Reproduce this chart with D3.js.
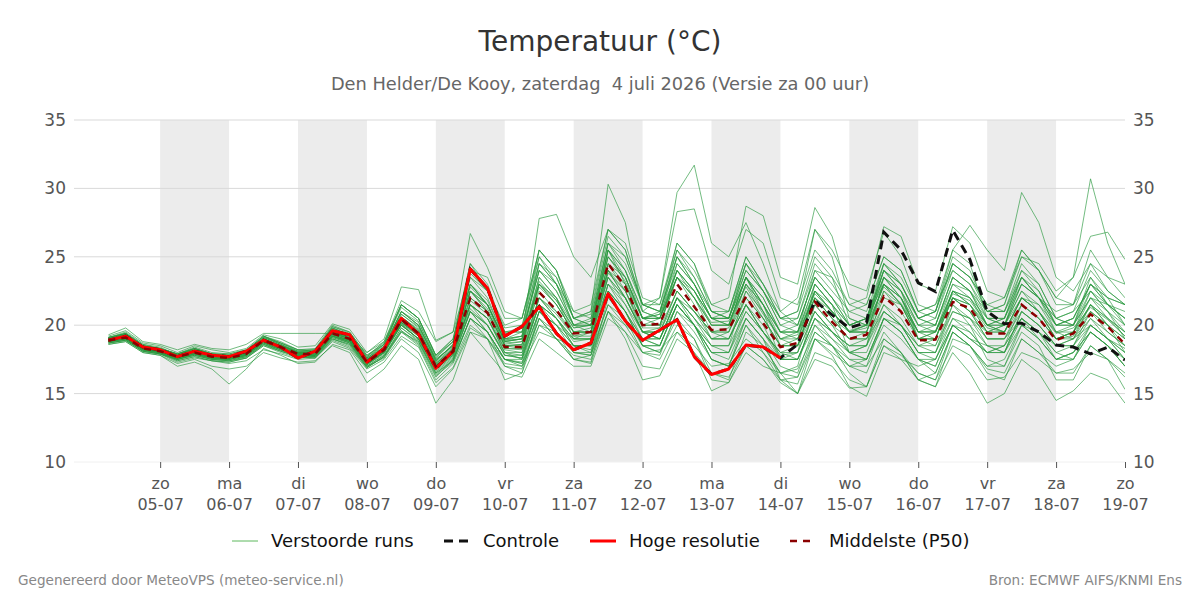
<!DOCTYPE html>
<html>
<head>
<meta charset="utf-8">
<script src="https://cdn.jsdelivr.net/npm/d3@7"></script>
<style>
  body { margin: 0; background: #fff; }
  text { font-family: "DejaVu Sans", sans-serif; }
</style>
</head>
<body>
<div id="chart"></div>
<script>
// 6-hourly steps starting 04-07 06 UTC
const startTime = Date.UTC(2026, 6, 4, 6);
const stepHours = 6;

const hogeResolutie = [18.9,19.2,18.4, 18.2,17.7,18.1,17.8, 17.7,18.1,18.9,18.4, 17.6,18.1,19.6,19.3,
  17.3,18.3,20.5,19.35, 16.85,18.1,24.1,22.7, 19.2,19.9,21.35,19.4, 18.2,18.7,22.3,20.3,
  18.9,19.65,20.4,17.7, 16.4,16.8,18.55,18.4, 17.6];

const controle = [18.9,19.2,18.4, 18.2,17.7,18.1,17.8, 17.7,18.1,18.9,18.4, 17.6,18.1,19.6,19.3,
  17.3,18.3,20.5,19.35, 16.85,18.1,24.1,22.7, 19.2,19.9,21.35,19.4, 18.2,18.7,22.3,20.3,
  18.9,19.65,20.4,17.7, 16.4,16.8,18.55,18.4, 17.6,18.6,21.8,20.75, 19.8,20.2,26.8,25.5,
  23.1,22.45,26.95,24.8, 21.0,20.1,20.15,19.5, 18.55,18.4,17.9,18.4, 17.45];

const middelste = [18.9,19.1,18.3, 18.1,17.7,18.0,17.7, 17.6,17.9,18.9,18.4, 17.9,17.9,19.4,19.0,
  17.3,18.2,20.4,19.4, 17.0,18.1,22.0,20.9, 18.4,18.4,22.4,21.1, 19.4,19.5,24.5,22.8,
  20.0,20.1,23.0,21.35, 19.65,19.7,22.1,20.15, 18.4,18.7,21.7,20.25, 19.0,19.3,22.1,21.0,
  18.9,18.95,21.7,21.25, 19.4,19.4,21.5,20.5, 18.9,19.4,20.8,19.9, 18.6];

const verstoordeRuns = [
  [19.0,19.4,18.5, 18.2,17.6,18.2,17.9, 17.8,18.0,19.2,18.6, 18.0,18.1,19.8,19.3, 17.6,18.4,21.0,20.0, 17.4,18.6,23.5,22.0, 19.0,19.2,24.5,23.0, 20.5,21.0,30.3,27.5, 21.0,20.5,25.0,23.0, 20.5,20.0,23.5,21.5, 19.0,18.5,22.0,20.5, 19.5,19.8,23.0,22.0, 19.5,19.0,22.5,21.5, 19.8,19.5,22.0,21.0, 19.0,19.2,21.5,20.5, 19.2],
  [18.7,18.9,18.1, 17.9,17.3,17.6,17.4, 17.2,17.4,18.2,17.9, 17.5,17.6,18.8,18.3, 16.8,17.5,19.2,18.4, 15.8,16.9,19.8,19.0, 17.2,17.0,19.5,19.0, 17.5,17.2,21.0,20.0, 18.0,18.2,19.5,18.5, 17.0,17.2,19.0,18.0, 16.5,16.8,19.5,18.5, 17.5,17.0,19.0,18.0, 16.5,16.0,18.5,17.8, 16.0,16.2,18.0,17.5, 16.5,16.8,18.0,17.5, 16.2],
  [19.0,19.3,18.4, 18.3,17.9,18.3,17.8, 17.7,18.1,19.0,18.5, 18.1,18.0,19.6,19.1, 17.4,18.3,20.8,19.8, 17.2,18.3,23.0,21.5, 18.8,19.0,23.5,22.0, 20.0,20.3,25.5,24.0, 21.0,22.0,29.7,31.7, 26.0,25.0,27.5,24.5, 21.0,20.0,23.5,22.0, 20.0,20.5,24.5,23.0, 20.5,20.0,23.5,22.5, 20.0,19.5,22.0,21.0, 19.5,19.0,21.0,20.0, 19.0],
  [18.8,19.0,18.2, 18.0,17.5,17.9,17.6, 17.5,17.8,18.7,18.2, 17.8,17.8,19.2,18.8, 17.1,18.0,20.2,19.3, 16.8,18.0,21.5,20.5, 18.3,18.2,22.0,20.8, 19.2,19.5,23.5,22.0, 19.5,19.8,22.5,21.0, 19.5,19.8,23.0,21.0, 19.0,19.5,23.0,21.5, 20.0,20.5,24.0,22.5, 20.0,20.5,24.5,23.5, 21.0,21.5,25.5,24.0, 22.0,23.5,30.7,26.0, 23.0],
  [19.1,19.5,18.6, 18.4,17.8,18.3,17.9, 17.8,18.1,19.1,18.7, 18.2,18.2,19.9,19.5, 17.8,18.6,21.3,20.3, 17.5,18.5,22.8,21.5, 18.9,19.0,23.2,21.8, 19.8,20.0,25.5,23.5, 20.5,20.8,24.0,22.5, 20.5,20.5,23.5,22.0, 19.5,19.5,22.5,21.0, 19.5,20.0,23.5,22.5, 20.5,21.0,24.5,23.5, 21.5,22.0,25.0,24.5, 22.5,23.5,26.5,26.8, 24.8],
  [18.6,18.8,18.0, 17.8,17.2,17.5,17.0, 16.8,17.0,18.0,17.6, 17.3,17.4,18.5,18.0, 15.8,16.8,18.5,17.5, 14.3,16.0,19.5,19.0, 17.5,17.2,20.0,19.5, 18.0,17.8,21.5,20.5, 18.5,18.0,21.0,20.0, 17.5,17.0,20.5,19.0, 16.0,16.2,19.5,18.5, 16.5,15.5,19.0,18.0, 16.0,15.5,19.0,18.5, 17.0,17.5,20.0,19.0, 17.5,18.0,20.0,19.0, 17.5],
  [19.2,19.6,18.7, 18.5,18.0,18.5,18.2, 18.0,18.3,19.3,19.0, 18.4,18.5,20.1,19.7, 18.0,19.0,22.8,22.6, 18.9,19.5,24.0,23.5, 20.5,20.5,25.5,24.0, 20.5,20.8,26.5,25.0, 21.5,21.0,24.5,23.0, 21.0,20.5,24.5,22.5, 20.5,20.0,23.5,22.0, 20.5,20.0,24.0,23.0, 20.5,20.0,23.0,22.0, 20.0,20.5,23.5,22.5, 20.0,20.0,22.0,21.5, 20.5],
  [18.9,19.2,18.3, 18.1,17.6,18.0,17.6, 17.6,17.9,18.8,18.3, 17.9,17.9,19.3,18.9, 17.3,18.1,20.3,19.4, 17.0,18.2,22.5,21.5, 18.9,19.2,27.8,28.1, 25.0,23.5,27.0,25.5, 21.5,21.0,25.0,23.5, 21.0,20.5,24.0,22.5, 20.0,20.5,24.5,23.0, 21.0,21.5,25.0,24.0, 21.0,21.5,25.5,24.5, 20.5,20.0,23.0,22.0, 19.5,19.5,22.0,20.5, 19.5],
  [18.8,19.1,18.3, 18.0,17.7,18.1,17.8, 17.7,18.0,19.0,18.5, 18.0,18.0,19.5,19.1, 17.5,18.3,20.6,19.7, 17.3,18.4,23.5,22.5, 19.5,19.5,24.0,23.0, 20.0,20.5,26.0,25.0, 21.5,22.0,28.3,28.5, 24.0,23.0,27.0,26.0, 22.0,21.5,25.5,24.0, 21.5,21.0,24.5,23.0, 20.5,21.0,25.0,24.0, 21.0,21.0,24.5,23.0, 20.5,20.0,23.0,22.0, 21.5],
  [19.0,19.2,18.4, 18.2,17.7,18.1,17.7, 17.6,17.9,18.9,18.4, 17.9,17.9,19.5,19.0, 17.3,18.2,20.5,19.5, 17.1,18.1,22.5,21.0, 18.5,18.6,23.0,21.5, 19.5,19.8,25.0,23.5, 20.5,20.8,25.5,24.0, 21.5,22.0,28.7,28.0, 23.5,23.0,28.6,26.5, 22.0,21.5,25.0,24.0, 21.0,20.5,24.0,23.0, 20.5,20.0,23.5,22.0, 20.0,20.5,23.0,21.5, 20.0],
  [18.7,18.9,18.1, 17.9,17.5,17.8,17.5, 17.4,17.6,18.5,18.0, 17.6,17.7,19.0,18.6, 17.0,17.6,19.5,18.8, 16.5,17.4,20.5,19.5, 17.5,17.2,20.5,19.0, 17.8,17.5,21.0,19.5, 17.0,16.8,19.5,18.0, 15.2,15.8,18.5,17.5, 15.8,15.0,18.0,17.5, 16.0,15.5,18.5,17.8, 16.5,16.0,19.5,18.5, 16.8,16.5,19.0,18.0, 16.5,16.5,18.5,17.5, 16.5],
  [19.0,19.3,18.4, 18.1,17.7,18.2,17.8, 17.7,18.0,19.0,18.5, 18.0,18.0,19.6,19.2, 17.5,18.3,20.6,19.6, 17.2,18.2,22.5,21.0, 18.6,18.8,23.0,21.5, 19.5,19.5,24.5,22.5, 20.0,20.0,23.5,22.0, 20.0,20.0,23.0,21.5, 19.5,19.5,24.0,23.5, 21.5,22.0,27.2,26.5, 23.0,22.5,27.2,26.0, 22.5,22.0,25.5,24.0, 21.5,21.5,24.5,22.5, 21.5],
  [18.9,19.1,18.3, 18.1,17.8,18.1,17.7, 17.6,17.8,18.9,18.4, 17.9,17.9,19.2,18.8, 17.2,18.0,20.0,19.0, 16.8,17.8,21.5,20.5, 18.0,18.0,21.5,20.5, 19.0,19.0,23.0,22.0, 19.5,19.5,22.5,21.0, 19.0,19.0,22.0,20.5, 18.5,18.5,22.5,21.5, 19.5,20.0,24.0,23.0, 20.5,21.0,25.5,27.3, 25.5,24.0,29.7,27.5, 23.5,22.5,24.5,23.5, 22.0],
  [18.8,19.0,18.2, 18.0,17.6,17.9,17.6, 17.5,17.8,18.8,18.3, 17.8,17.8,19.3,18.9, 17.2,18.1,20.0,19.0, 16.6,17.6,21.0,20.0, 17.8,17.6,21.0,20.0, 18.5,18.5,22.5,21.0, 19.0,18.5,21.5,20.0, 18.0,17.5,20.5,19.0, 17.0,16.5,20.0,18.5, 17.0,16.5,19.5,18.0, 16.0,15.5,18.0,16.5, 14.3,15.0,17.5,16.5, 14.5,15.2,16.5,16.0, 14.3],
  [19.1,19.4,18.5, 18.3,17.9,18.2,17.8, 17.8,18.1,19.1,18.6, 18.1,18.2,19.8,19.2, 17.6,18.5,21.5,20.5, 17.8,18.8,24.5,23.0, 19.5,19.8,25.5,24.0, 20.5,21.0,27.0,26.0, 22.0,21.5,26.0,24.5, 21.0,20.5,24.0,22.5, 20.5,21.0,27.0,25.5, 23.0,22.5,26.8,25.0, 21.5,21.0,24.5,23.5, 21.5,21.0,24.0,23.0, 20.5,20.0,23.5,21.5, 21.0],
  [18.9,19.0,18.3, 18.0,17.6,17.9,17.6, 17.5,17.8,18.7,18.3, 17.8,17.8,19.2,18.9, 17.1,18.0,20.1,19.2, 16.8,17.8,21.5,20.5, 18.0,17.8,21.5,20.5, 18.8,19.0,23.5,22.0, 19.5,19.5,22.0,20.5, 19.0,19.0,21.5,19.5, 17.8,18.0,21.0,19.5, 18.5,18.5,21.0,20.0, 18.0,18.0,20.5,20.0, 18.5,18.5,20.5,19.5, 18.0,18.5,20.0,19.0, 18.0],
  [19.0,19.2,18.4, 18.2,17.8,18.1,17.8, 17.7,18.0,19.0,18.5, 18.0,18.0,19.5,19.1, 17.4,18.3,20.6,19.6, 17.2,18.3,22.5,21.2, 18.7,18.8,23.0,21.8, 19.8,20.0,25.0,23.2, 20.5,20.5,23.5,22.0, 20.2,20.3,22.8,20.8, 19.0,19.3,22.3,21.0, 19.6,20.0,22.8,21.6, 19.5,19.6,22.3,21.8, 20.0,20.0,22.0,21.0, 19.4,19.8,21.3,20.4, 19.2],
  [18.8,19.0,18.2, 18.0,17.4,17.7,17.4, 17.3,17.6,18.6,18.1, 17.7,17.7,19.0,18.5, 16.9,17.7,19.8,18.8, 16.3,17.3,20.5,19.5, 17.0,16.5,20.0,19.0, 17.5,17.3,22.0,20.5, 18.0,17.8,21.0,19.5, 17.5,17.0,20.0,18.5, 16.5,17.0,21.5,20.0, 18.0,18.5,22.5,21.0, 19.0,19.0,22.0,21.0, 19.0,19.0,21.0,20.0, 18.5,18.5,21.0,19.5, 18.5],
  [19.1,19.3,18.5, 18.2,17.9,18.3,17.9, 17.9,18.2,19.2,18.7, 18.2,18.1,19.7,19.2, 17.6,18.6,21.0,20.2, 17.6,18.8,23.8,22.5, 19.8,20.0,24.5,23.5, 20.5,20.0,24.0,22.5, 19.5,19.0,21.5,20.0, 18.5,18.0,20.5,19.0, 17.5,17.5,20.5,19.5, 18.0,17.5,20.0,19.0, 17.5,17.0,20.0,19.5, 18.0,18.5,21.5,20.5, 19.0,19.5,22.5,21.0, 19.5],
  [18.9,19.1,18.3, 18.1,17.7,18.0,17.7, 17.6,17.9,18.8,18.4, 17.9,17.9,19.4,19.0, 17.3,18.1,20.2,19.3, 17.0,18.0,21.8,20.8, 18.3,18.3,22.0,21.0, 19.2,19.2,23.8,22.5, 19.8,19.8,24.5,23.0, 20.5,20.5,24.5,22.5, 20.0,19.5,22.0,20.5, 19.0,19.0,21.0,20.0, 18.5,18.0,21.0,20.5, 19.5,20.0,23.0,22.0, 20.5,21.0,24.0,22.5, 21.5],
  [19.3,19.8,18.8, 18.6,18.2,18.6,18.3, 18.2,18.6,19.4,19.4, 19.4,19.4,19.4,19.2, 18.0,18.8,21.5,20.5, 17.8,19.0,24.0,22.5, 19.0,19.5,25.0,23.0, 21.0,20.5,26.0,24.0, 20.5,20.0,24.0,22.0, 19.5,19.0,21.5,19.5, 18.0,17.5,20.0,19.0, 17.5,17.5,20.5,20.0, 18.5,19.0,22.0,21.5, 20.0,20.5,23.5,22.0, 21.0,21.5,25.5,23.5, 23.0],
  [18.6,18.8,18.0, 17.8,17.0,17.3,16.8, 15.7,16.8,18.3,17.8, 17.2,17.3,18.6,18.2, 16.5,17.3,19.0,18.0, 15.5,16.8,19.5,18.0, 16.5,16.2,19.0,18.0, 17.0,17.0,20.5,19.5, 18.0,17.5,20.0,19.0, 16.5,16.0,19.5,18.5, 16.5,16.2,19.0,17.8, 15.5,14.8,18.0,17.5, 16.0,16.5,19.5,18.5, 17.0,17.0,19.5,18.5, 16.0,16.0,18.5,17.5, 15.3],
  [18.8,19.0,18.2, 17.9,17.6,17.9,17.6, 17.5,17.8,18.7,18.2, 17.7,17.8,19.1,18.7, 17.0,17.8,19.6,18.6, 16.2,17.5,20.5,19.0, 16.0,16.5,21.0,19.5, 17.5,17.8,21.0,19.0, 16.0,16.3,19.0,18.0, 16.5,16.2,18.5,17.5, 16.0,15.7,19.0,18.0, 17.0,17.5,20.5,19.5, 17.5,17.0,20.0,19.0, 18.0,18.5,20.5,19.0, 17.5,18.0,19.5,18.5, 17.0],
  [19.0,19.3,18.5, 18.2,17.8,18.3,17.9, 17.7,18.0,19.1,18.6, 18.0,18.1,19.8,19.3, 17.7,18.8,21.8,21.0, 18.8,19.5,26.7,24.2, 21.0,20.5,25.0,23.5, 20.5,20.0,25.5,24.0, 21.0,20.5,24.0,22.5, 20.0,20.0,23.5,21.5, 19.5,19.0,22.0,21.0, 19.5,19.5,23.0,22.0, 20.0,19.5,22.0,21.0, 19.5,20.0,22.5,21.5, 20.0,20.5,23.0,21.5, 20.5],
  [18.7,18.9,18.1, 17.9,17.5,17.8,17.5, 17.4,17.7,18.6,18.1, 17.7,17.6,18.9,18.4, 16.9,17.7,19.5,18.5, 16.0,17.2,20.0,19.0, 17.0,16.8,20.5,19.5, 18.0,17.8,22.5,21.0, 18.5,18.5,21.5,20.0, 18.5,18.5,22.5,21.0, 17.5,18.0,23.0,21.5, 18.0,18.5,23.5,22.5, 19.0,18.5,21.5,20.0, 17.5,17.0,20.0,19.5, 18.0,17.5,20.0,19.0, 17.5],
  [19.0,19.2,18.3, 18.1,17.7,18.0,17.6, 17.6,17.9,18.8,18.4, 17.9,18.0,19.4,19.0, 17.3,18.2,20.4,19.4, 17.0,18.2,22.0,21.0, 18.5,18.3,22.8,21.5, 19.5,19.5,24.5,23.5, 20.5,21.0,26.0,24.5, 21.5,21.0,25.0,23.0, 21.0,22.0,27.0,25.0, 20.5,20.0,23.5,22.0, 19.0,19.0,22.5,21.5, 19.5,19.5,22.0,21.5, 19.5,20.0,22.5,21.0, 19.0],
  [18.8,19.1,18.2, 18.0,17.6,18.0,17.6, 17.6,17.8,18.8,18.3, 17.9,17.8,19.3,18.9, 17.2,18.1,20.2,19.3, 16.9,18.0,21.5,20.0, 18.0,17.5,21.0,20.0, 19.0,19.0,23.5,21.5, 19.5,19.0,22.0,21.0, 19.5,19.5,23.0,21.5, 18.5,18.5,21.0,19.5, 18.5,19.0,22.0,21.5, 19.0,19.5,22.5,22.0, 20.0,20.0,22.5,21.0, 19.0,19.5,21.5,20.5, 19.5],
  [18.9,19.0,18.3, 18.0,17.5,17.9,17.5, 17.5,17.7,18.7,18.2, 17.8,17.7,19.2,18.7, 17.1,17.9,20.0,19.0, 16.7,17.7,21.0,19.5, 17.5,17.5,22.0,20.5, 18.5,18.5,23.0,21.0, 18.5,18.0,20.5,19.0, 16.0,15.8,18.0,17.0, 16.5,15.0,17.5,17.0, 15.4,15.5,18.5,17.5, 17.0,17.5,20.0,19.0, 18.0,18.0,21.0,20.0, 18.5,19.0,21.5,20.0, 18.0],
  [19.0,19.4,18.5, 18.3,17.8,18.1,17.8, 17.7,18.0,19.0,18.5, 18.0,18.1,19.7,19.2, 17.5,18.4,20.8,19.9, 17.4,18.5,23.0,21.5, 18.8,19.0,23.0,22.0, 19.5,19.5,24.0,23.0, 20.5,20.5,23.5,22.5, 20.5,21.0,24.5,23.0, 20.5,21.0,25.0,23.5, 20.0,20.0,24.5,23.5, 21.0,21.5,24.0,23.0, 21.0,21.5,25.0,24.0, 22.0,21.5,23.5,22.0, 21.5],
  [18.8,19.0,18.2, 18.0,17.7,18.0,17.7, 17.6,17.9,18.8,18.3, 17.8,17.8,19.2,18.8, 17.2,18.0,20.1,19.0, 16.8,17.9,21.0,19.5, 17.5,17.0,20.5,19.0, 18.5,18.0,21.5,20.0, 19.0,19.0,22.0,20.0, 18.0,18.0,21.0,19.5, 18.0,18.5,21.5,20.0, 19.0,19.0,21.5,20.0, 18.0,17.5,20.0,19.0, 18.5,18.0,21.0,20.0, 18.5,18.5,20.5,19.0, 18.0],
  [18.9,19.1,18.3, 18.1,17.6,18.0,17.7, 17.6,17.9,18.9,18.3, 17.9,17.8,19.3,18.9, 17.2,18.1,20.2,19.2, 16.9,18.0,21.2,20.0, 17.8,17.6,21.5,20.5, 18.5,18.2,22.5,21.0, 19.0,18.5,21.5,20.0, 17.5,17.0,20.0,18.0, 16.0,15.0,19.0,18.5, 17.0,17.0,20.5,19.5, 17.5,16.5,19.5,18.5, 16.5,16.0,19.0,18.0, 17.0,17.5,19.5,18.5, 17.0],
  [19.1,19.4,18.5, 18.3,17.9,18.3,17.9, 17.8,18.1,19.2,18.7, 18.1,18.2,19.9,19.4, 17.7,18.6,21.5,20.5, 17.8,19.0,24.5,22.5, 20.0,20.5,25.5,24.0, 21.0,21.5,27.0,25.5, 21.5,21.0,25.0,23.0, 20.5,20.0,23.5,22.0, 19.5,19.5,23.0,21.5, 20.0,20.5,23.5,22.0, 19.5,19.5,23.0,22.5, 20.5,20.5,24.0,22.5, 20.0,20.5,23.0,22.0, 20.0],
  [18.9,19.2,18.4, 18.2,17.8,18.2,17.8, 17.7,18.0,19.0,18.5, 18.0,18.0,19.5,19.0, 17.4,18.4,21.0,20.0, 17.5,18.5,23.0,21.5, 18.5,18.5,23.5,22.0, 19.0,19.5,25.5,23.0, 20.0,20.5,23.5,21.5, 19.0,19.5,22.5,20.5, 18.5,19.0,22.5,21.0, 19.5,19.5,22.5,21.5, 19.0,19.5,22.0,21.5, 19.5,19.5,22.0,21.0, 19.0,19.5,21.5,20.0, 19.0],
  [18.8,19.0,18.2, 18.0,17.6,17.9,17.6, 17.5,17.8,18.8,18.3, 17.8,17.8,19.2,18.8, 17.2,18.0,20.0,19.0, 16.9,17.9,21.5,20.5, 18.2,18.0,22.0,20.5, 19.0,19.0,24.0,22.0, 19.5,19.0,22.0,20.5, 19.0,19.0,21.5,19.5, 18.0,18.0,21.0,19.5, 18.5,18.5,21.5,20.5, 18.5,18.5,21.0,20.5, 19.0,19.0,20.5,19.5, 18.5,19.0,20.0,19.0, 18.3],
  [19.0,19.3,18.4, 18.2,17.8,18.1,17.8, 17.7,18.0,19.0,18.5, 18.0,18.0,19.6,19.2, 17.5,18.4,21.0,20.0, 17.4,18.6,23.0,21.8, 19.0,19.2,24.0,22.5, 20.0,20.0,25.0,23.5, 20.5,20.5,24.0,22.5, 20.5,20.5,23.5,21.5, 19.5,20.0,23.5,22.0, 20.0,20.5,23.0,21.5, 19.5,19.5,22.5,22.0, 20.5,20.5,23.0,22.0, 20.0,20.0,22.0,21.0, 20.0],
  [18.7,18.9,18.1, 17.9,17.4,17.7,17.4, 17.3,17.6,18.5,18.1, 17.7,17.6,19.0,18.6, 16.9,17.7,19.6,18.7, 16.4,17.4,20.5,19.5, 17.5,17.3,21.0,20.0, 18.0,18.0,22.5,21.0, 18.5,18.5,21.5,20.0, 18.0,18.0,21.5,20.0, 17.5,17.5,20.5,19.5, 18.0,17.5,20.5,19.5, 17.5,17.5,20.5,19.5, 18.0,18.0,20.0,19.0, 17.5,17.5,19.5,18.5, 17.5],
  [19.0,19.2,18.4, 18.1,17.7,18.1,17.7, 17.6,17.9,18.9,18.4, 17.9,18.0,19.4,19.0, 17.3,18.2,20.5,19.5, 17.0,18.2,22.5,21.5, 18.8,19.0,24.5,23.0, 20.0,19.5,24.0,22.0, 19.5,19.5,22.5,21.0, 19.5,19.5,22.0,20.5, 18.5,18.5,22.0,20.5, 19.0,19.5,23.0,22.0, 19.5,20.0,23.5,22.5, 20.0,19.5,21.5,20.5, 19.0,19.5,21.0,20.0, 18.5],
  [18.9,19.1,18.3, 18.1,17.7,18.0,17.7, 17.6,17.9,18.8,18.4, 17.9,17.9,19.4,19.0, 17.3,18.2,20.4,19.4, 17.1,18.1,22.0,21.0, 18.5,18.6,22.5,21.0, 19.5,19.5,24.5,23.0, 20.0,20.0,23.5,22.0, 20.0,20.0,23.5,21.0, 19.0,19.0,22.5,21.0, 19.5,19.5,23.0,21.5, 19.0,19.0,22.0,21.0, 19.0,19.0,21.5,20.5, 19.0,19.0,20.5,19.5, 18.5],
  [19.1,19.4,18.6, 18.3,17.9,18.4,18.0, 17.9,18.2,19.2,18.8, 18.2,18.3,20.0,19.5, 17.8,18.7,21.5,20.5, 17.7,18.8,24.0,22.5, 19.5,19.5,24.0,22.5, 20.0,20.0,26.0,24.5, 21.5,21.5,25.5,23.5, 21.0,21.0,25.0,23.0, 20.5,20.5,24.0,22.5, 21.0,20.5,24.0,22.5, 20.0,20.0,23.5,22.5, 21.0,21.0,23.5,22.0, 20.5,21.0,22.5,21.5, 20.5],
  [18.8,19.0,18.2, 18.0,17.5,17.8,17.5, 17.4,17.7,18.6,18.2, 17.7,17.7,19.1,18.7, 17.0,17.8,19.8,18.9, 16.5,17.5,21.0,20.0, 17.8,17.8,21.5,20.0, 18.5,18.5,23.0,21.5, 19.0,19.0,22.0,20.5, 18.5,18.5,21.0,19.5, 17.5,17.5,20.5,19.0, 18.0,18.0,21.0,20.0, 18.0,18.0,21.5,20.5, 18.5,18.0,20.5,19.5, 17.5,18.0,19.5,18.5, 17.0]
];

const yTicks = [10, 15, 20, 25, 30, 35];
const dagNamen = ['zo', 'ma', 'di', 'wo', 'do', 'vr', 'za'];
const legendaItems = ['Verstoorde runs', 'Controle', 'Hoge resolutie', 'Middelste (P50)'];

const width = 1200, height = 600;
const plot = { left: 74, right: 1125, top: 120, bottom: 462 };

const timeAt = i => new Date(startTime + i * stepHours * 3600 * 1000);

const svg = d3.select('#chart').append('svg')
    .attr('width', width)
    .attr('height', height);

const x = d3.scaleUtc()
    .domain([new Date(Date.UTC(2026, 6, 3, 18)), new Date(Date.UTC(2026, 6, 19, 0))])
    .range([plot.left, plot.right]);

const y = d3.scaleLinear()
    .domain([10, 35])
    .range([plot.bottom, plot.top]);

svg.append('defs').append('clipPath').attr('id', 'plotclip')
    .append('rect')
    .attr('x', plot.left).attr('y', plot.top)
    .attr('width', plot.right - plot.left).attr('height', plot.bottom - plot.top);

// alternating day bands
const days = d3.utcDay.range(new Date(Date.UTC(2026, 6, 5)), new Date(Date.UTC(2026, 6, 20)));
svg.append('g').attr('clip-path', 'url(#plotclip)')
    .selectAll('rect')
    .data(days.filter((d, i) => i % 2 === 0))
    .enter().append('rect')
    .attr('x', d => x(d))
    .attr('y', plot.top)
    .attr('width', d => x(d3.utcDay.offset(d, 1)) - x(d))
    .attr('height', plot.bottom - plot.top)
    .attr('fill', '#ececec');

// grid
svg.append('g').selectAll('line')
    .data(yTicks)
    .enter().append('line')
    .attr('x1', plot.left).attr('x2', plot.right)
    .attr('y1', d => y(d)).attr('y2', d => y(d))
    .attr('stroke', d => d === 10 ? '#f0f0f0' : '#d9d9d9')
    .attr('stroke-width', 1);

// y labels both sides
const yLab = svg.append('g').attr('fill', '#555').style('font-size', '17px');
yLab.selectAll('text.l').data(yTicks).enter().append('text')
    .attr('class', 'l')
    .attr('x', plot.left - 8).attr('y', d => y(d)).attr('dy', '0.35em')
    .attr('text-anchor', 'end')
    .text(d => d);
yLab.selectAll('text.r').data(yTicks).enter().append('text')
    .attr('class', 'r')
    .attr('x', plot.right + 8).attr('y', d => y(d)).attr('dy', '0.35em')
    .attr('text-anchor', 'start')
    .text(d => d);

// x axis
const xAxis = svg.append('g')
    .attr('transform', `translate(0,${plot.bottom})`)
    .call(d3.axisBottom(x).tickValues(days.filter(d => d <= x.domain()[1])).tickSize(6).tickFormat(''));
xAxis.select('.domain').remove();
xAxis.selectAll('.tick line').attr('stroke', '#555');
xAxis.selectAll('.tick').each(function(d) {
    const t = d3.select(this).append('text')
        .attr('fill', '#555')
        .attr('text-anchor', 'middle')
        .style('font-size', '16px');
    t.append('tspan').attr('x', 0).attr('y', 27).text(dagNamen[d.getUTCDay()]);
    t.append('tspan').attr('x', 0).attr('y', 48).text(d3.utcFormat('%d-%m')(d));
});

// lines
const lineGen = d3.line()
    .x((d, i) => x(timeAt(i)))
    .y(d => y(d));

const lines = svg.append('g').attr('clip-path', 'url(#plotclip)');

lines.selectAll('path.run')
    .data(verstoordeRuns)
    .enter().append('path')
    .attr('class', 'run')
    .attr('d', lineGen)
    .attr('fill', 'none')
    .attr('stroke', '#2a9a40')
    .attr('stroke-opacity', 0.66)
    .attr('stroke-width', 1);

lines.append('path')
    .attr('d', lineGen(controle))
    .attr('fill', 'none')
    .attr('stroke', '#111')
    .attr('stroke-width', 3)
    .attr('stroke-dasharray', '9,6');

lines.append('path')
    .attr('d', lineGen(hogeResolutie))
    .attr('fill', 'none')
    .attr('stroke', '#ff0000')
    .attr('stroke-width', 3)
    .attr('stroke-linejoin', 'round');

lines.append('path')
    .attr('d', lineGen(middelste))
    .attr('fill', 'none')
    .attr('stroke', '#8b0000')
    .attr('stroke-width', 2.5)
    .attr('stroke-dasharray', '7,6');

// titles
svg.append('text')
    .attr('x', width / 2).attr('y', 51)
    .attr('text-anchor', 'middle')
    .attr('fill', '#333')
    .style('font-size', '28px')
    .text('Temperatuur (°C)');

svg.append('text')
    .attr('x', width / 2).attr('y', 90)
    .attr('text-anchor', 'middle')
    .attr('fill', '#666')
    .style('font-size', '17.8px')
    .style('white-space', 'pre')
    .text('Den Helder/De Kooy, zaterdag  4 juli 2026 (Versie za 00 uur)');

// legend
const legendX = [232, 444, 590, 790];
const legendStyle = [
    { stroke: '#5cb85c', width: 1, dash: null },
    { stroke: '#111', width: 3, dash: '9,6' },
    { stroke: '#ff0000', width: 3, dash: null },
    { stroke: '#8b0000', width: 2.5, dash: '7,6' }
];
const legend = svg.append('g').attr('transform', 'translate(0,541)');
legendaItems.forEach((name, i) => {
    const g = legend.append('g').attr('transform', `translate(${legendX[i]},0)`);
    g.append('line')
        .attr('x1', 0).attr('x2', 26).attr('y1', 0).attr('y2', 0)
        .attr('stroke', legendStyle[i].stroke)
        .attr('stroke-width', legendStyle[i].width)
        .attr('stroke-dasharray', legendStyle[i].dash);
    g.append('text')
        .attr('x', 39).attr('y', 0).attr('dy', '0.35em')
        .attr('fill', '#111')
        .style('font-size', '18px')
        .text(name);
});

// footer
svg.append('text')
    .attr('x', 18).attr('y', 585)
    .attr('fill', '#888')
    .style('font-size', '13.6px')
    .text('Gegenereerd door MeteoVPS (meteo-service.nl)');
svg.append('text')
    .attr('x', 1182).attr('y', 585)
    .attr('text-anchor', 'end')
    .attr('fill', '#888')
    .style('font-size', '13.6px')
    .text('Bron: ECMWF AIFS/KNMI Ens');
</script>
</body>
</html>
